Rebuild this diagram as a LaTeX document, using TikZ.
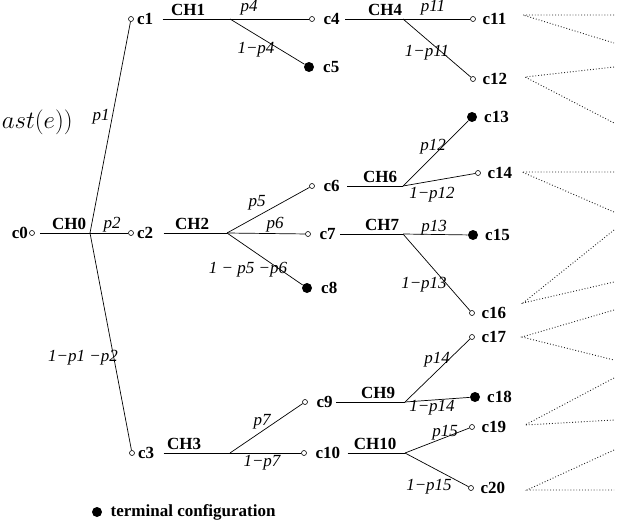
\documentclass[tikz,border=0pt]{standalone}
\usepackage[no-math]{fontspec}
\setmainfont{Liberation Serif}
\usetikzlibrary{positioning}
\newcommand\treesize{\fontsize{17}{20}\selectfont}
\tikzset{
  state/.style={circle,draw,fill=white,inner sep=0pt,minimum size=5pt,line width=0.6pt},
  final/.style={circle,fill,inner sep=0pt,minimum size=10pt},
  conf/.style={font=\treesize\bfseries,inner sep=1pt},
  chan/.style={font=\treesize\bfseries,inner sep=1pt,anchor=south},
  prob/.style={font=\treesize\itshape,inner sep=0pt},
  more/.style={dotted,line width=0.9pt,black!85}
}

\begin{document}
\begin{tikzpicture}[x=1pt,y=-1pt,line width=0.7pt,node distance=5.5pt]
  \useasboundingbox (0,0) rectangle (620,527);
  \draw
    (32,233) node[state] (c0){}
    (131,19) node[state] (c1){}
    (131,233) node[state] (c2){}
    (132,453) node[state] (c3){}
    (312,19) node[state] (c4){}
    (309,67) node[final] (c5){}
    (312,186) node[state] (c6){}
    (308,234) node[state] (c7){}
    (307,288) node[final] (c8){}
    (305,402) node[state] (c9){}
    (304,453) node[state] (c10){}
    (473,19) node[state] (c11){}
    (473,79) node[state] (c12){}
    (472,117) node[final] (c13){}
    (478,173) node[state] (c14){}
    (473,235) node[final] (c15){}
    (472,313) node[state] (c16){}
    (472,337) node[state] (c17){}
    (475,397) node[final] (c18){}
    (472,427) node[state] (c19){}
    (471,488) node[state] (c20){};
  \coordinate (b0) at (90,233);
  \coordinate (b1) at (230,19);
  \coordinate (b2) at (227,233);
  \coordinate (b3) at (230,453);
  \coordinate (b4) at (403,19);
  \coordinate (b6) at (403,186);
  \coordinate (b7) at (403,234);
  \coordinate (b9) at (405,402);
  \coordinate (b10) at (405,453);

  \node[conf,left=0pt of c0] (t0) {c0};
  \foreach \i in {1,2,3}
    \node[conf,right=2pt of c\i] (t\i) {c\i};
  \foreach \i in {4,...,10}
    \node[conf,right=7.5pt of c\i] (t\i) {c\i};
  \foreach \i in {11,...,20}
    \node[conf,right=of c\i] (t\i) {c\i};

  \node[chan] (h0) at (69,231) {CH0};
  \node[chan] (h1) at (188,17) {CH1};
  \node[chan] (h2) at (192,231) {CH2};
  \node[chan] (h3) at (184,451) {CH3};
  \node[chan] (h4) at (385,17) {CH4};
  \node[chan] (h6) at (380,184) {CH6};
  \node[chan] (h7) at (382,232) {CH7};
  \node[chan] (h9) at (378,400) {CH9};
  \node[chan] (h10) at (375,451) {CH10};

  \node[prob] (q1) at (101,117) {p1};
  \node[prob] (q2) at (112,225) {p2};
  \node[prob] (q3) at (83,358) {1−p1 −p2};
  \node[prob] (q4) at (249,8) {p4};
  \node[prob] (q5) at (256,50) {1−p4};
  \node[prob] (q6) at (257,203) {p5};
  \node[prob] (q7) at (275,225) {p6};
  \node[prob] (q8) at (248,270) {1 − p5 −p6};
  \node[prob] (q9) at (262,422) {p7};
  \node[prob] (q10) at (262,463) {1−p7};
  \node[prob] (q11) at (433,8) {p11};
  \node[prob] (q12) at (427,53) {1−p11};
  \node[prob] (q13) at (433,147) {p12};
  \node[prob] (q14) at (432,195) {1−p12};
  \node[prob] (q15) at (434,228) {p13};
  \node[prob] (q16) at (424,285) {1−p13};
  \node[prob] (q17) at (437,360) {p14};
  \node[prob] (q18) at (432,408) {1−p14};
  \node[prob] (q19) at (445,433) {p15};
  \node[prob] (q20) at (429,487) {1−p15};

  \node[anchor=east,inner sep=0pt,font=\fontsize{24}{28}\selectfont] (cut) at (73,122) {$ast(e))$};

  \node[final] (key) at (97,512) {};
  \node[conf,right=7pt of key] (keytext) {terminal configuration};

  \begin{scope}[-]
    \draw[shorten <=5pt] (c0) to (b0);
    \draw (b0) to (c1);
    \draw (b0) to (c2);
    \draw (b0) to (c3);
    \draw[shorten <=8pt] (t1) to (b1);
    \draw[shorten <=9pt] (t2) to (b2);
    \draw[shorten <=8pt] (t3) to (b3);
    \draw[shorten <=4pt] (t4) to (b4);
    \draw[shorten <=6pt] (t6) to (b6);
    \draw[shorten <=3pt] (t7) to (b7);
    \draw[shorten <=2pt] (t9) to (b9);
    \draw[shorten <=6pt] (t10) to (b10);
    \draw (b1) to (c4);
    \draw (b1) to (c5);
    \draw (b2) to (c6);
    \draw (b2) to (c7);
    \draw (b2) to (c8);
    \draw (b3) to (c9);
    \draw (b3) to (c10);
    \draw (b4) to (c11);
    \draw (b4) to (c12);
    \draw (b6) to (c13);
    \draw (b6) to (c14);
    \draw (b7) to (c15);
    \draw (b7) to (c16);
    \draw (b9) to (c17);
    \draw (b9) to (c18);
    \draw (b10) to (c19);
    \draw (b10) to (c20);
  \end{scope}

  \foreach \n/\ax/\ay/\ya/\yb in {11/523/15/15/43, 12/525/77/67/123,
      14/522/172/172/212, 16/523/303/230/282, 17/522/337/310/360,
      19/525/425/378/420, 20/527/490/450/490}{
    \coordinate (a\n) at (\ax,\ay);
    \coordinate (u\n) at (614,\ya);
    \coordinate (v\n) at (614,\yb);
    \draw[more] (u\n) -- (a\n) -- (v\n);
  }
\end{tikzpicture}
\end{document}
